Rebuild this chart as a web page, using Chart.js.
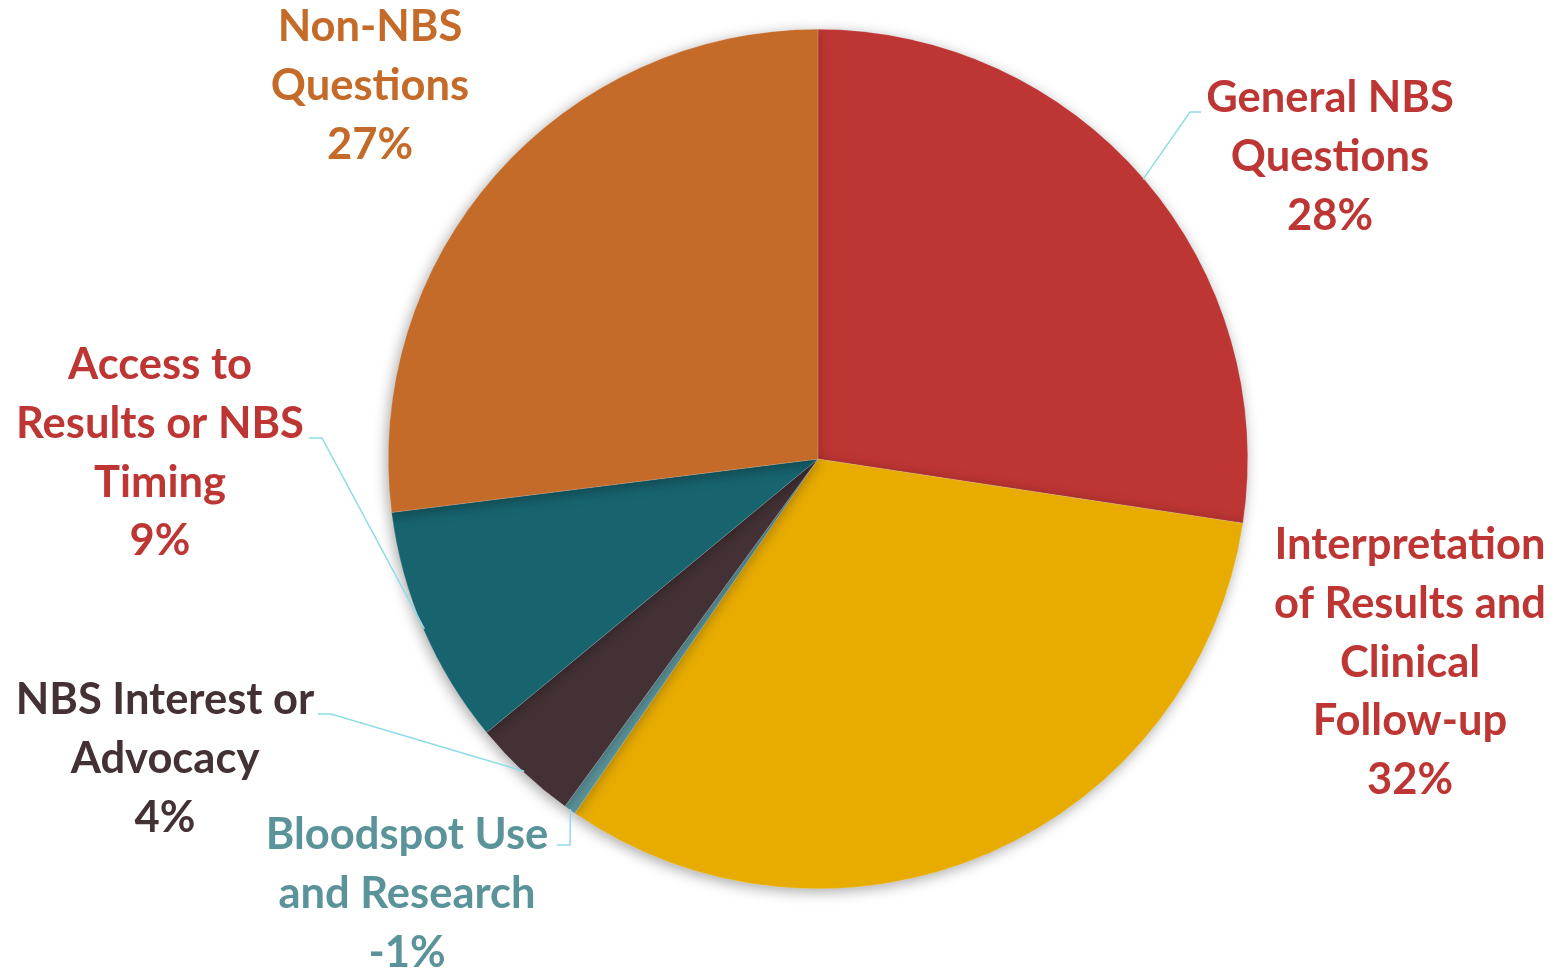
<!DOCTYPE html>
<html lang="en">
<head>
    <meta charset="UTF-8">
    <title>NBS Questions</title>
    <script src="https://cdn.jsdelivr.net/npm/chart.js@4.4.0/dist/chart.umd.min.js"></script>
    <style>
        html, body { margin: 0; padding: 0; background: #fff; }
        #wrap { width: 1563px; height: 970px; }
    </style>
</head>
<body>
<div id="wrap"><canvas id="myChart" width="1563" height="970"></canvas></div>
<script>
    // data (clockwise from 12 o'clock)
    const categories = [
        ['General NBS', 'Questions'],
        ['Interpretation', 'of Results and', 'Clinical', 'Follow-up'],
        ['Bloodspot Use', 'and Research'],
        ['NBS Interest or', 'Advocacy'],
        ['Access to', 'Results or NBS', 'Timing'],
        ['Non-NBS', 'Questions']
    ];
    const shares = [27.4, 32.2, 0.45, 4.0, 9.0, 27.0];
    const pctLabels = ['28%', '32%', '-1%', '4%', '9%', '27%'];

    const sliceColors = ['#BE3633', '#E8AC00', '#5B949B', '#433135', '#17646F', '#C56B29'];
    const textColors = ['#BE3633', '#BE3633', '#5B939A', '#433134', '#BE3633', '#C56B29'];

    // where each label sits (center x, first line y) and its leader elbow
    const labelPos = [
        { x: 1330, y: 98, elbow: [1190, 112, 1201] },
        { x: 1410, y: 545, elbow: null },
        { x: 407, y: 835, elbow: [570, 845, 557] },
        { x: 165, y: 700, elbow: [331, 714, 318] },
        { x: 160, y: 365, elbow: [322, 438, 309] },
        { x: 370, y: 27, elbow: null }
    ];
    const lineStep = 58.8;
    const labelFont = 'bold 43.5px Lato';

    const shadowPlugin = {
        id: 'pieShadow',
        beforeDatasetsDraw(chart) {
            const c = chart.ctx;
            c.save();
            c.shadowColor = 'rgba(0,0,0,0.35)';
            c.shadowBlur = 14;
            c.shadowOffsetX = -2;
            c.shadowOffsetY = 3;
        },
        afterDatasetsDraw(chart) {
            chart.ctx.restore();
        }
    };

    const labelPlugin = {
        id: 'outLabels',
        afterDraw(chart) {
            const c = chart.ctx;
            const meta = chart.getDatasetMeta(0);
            c.save();
            meta.data.forEach(function (arc, i) {
                const p = labelPos[i];
                if (p.elbow) {
                    const mid = (arc.startAngle + arc.endAngle) / 2;
                    const ax = arc.x + Math.cos(mid) * (arc.outerRadius - 1);
                    const ay = arc.y + Math.sin(mid) * (arc.outerRadius - 1);
                    c.beginPath();
                    c.strokeStyle = '#8EDCE6';
                    c.lineWidth = 1.5;
                    c.moveTo(ax, ay);
                    c.lineTo(p.elbow[0], p.elbow[1]);
                    c.lineTo(p.elbow[2], p.elbow[1]);
                    c.stroke();
                }
                const lines = categories[i].concat([pctLabels[i]]);
                c.font = labelFont;
                c.fillStyle = textColors[i];
                c.textAlign = 'center';
                c.textBaseline = 'middle';
                lines.forEach(function (t, k) {
                    c.fillText(t, p.x, p.y + k * lineStep);
                });
            });
            c.restore();
        }
    };

    new Chart(document.getElementById('myChart'), {
        type: 'pie',
        data: {
            labels: categories.map(function (l) { return l.join(' '); }),
            datasets: [{
                data: shares,
                backgroundColor: sliceColors,
                borderColor: 'rgba(255,255,255,0.35)',
                borderWidth: 0.5
            }]
        },
        options: {
            responsive: false,
            animation: false,
            layout: { padding: { left: 388, right: 315, top: 29, bottom: 81 } },
            plugins: {
                legend: { display: false },
                tooltip: { enabled: false }
            }
        },
        plugins: [shadowPlugin, labelPlugin]
    });
</script>
</body>
</html>
